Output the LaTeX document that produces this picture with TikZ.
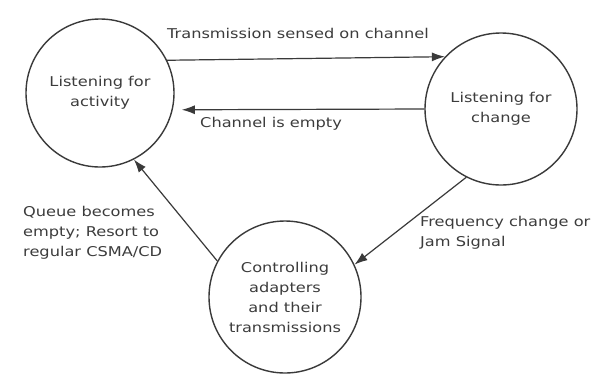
\documentclass[tikz,border=0pt]{standalone}
\usepackage{fontspec}
\setmainfont{DejaVu Sans}[FakeStretch=1.2]
\usetikzlibrary{arrows.meta}
\definecolor{txt}{HTML}{3C3C3C}
\definecolor{ln}{HTML}{3A3A3A}
\begin{document}
\begin{tikzpicture}[x=1pt,y=-1pt,
  state/.style={circle,draw=ln,line width=1.4pt,align=center,text=txt,
     font=\fontsize{13.5}{20}\selectfont,inner sep=0pt},
  lab/.style={text=txt,font=\fontsize{13.5}{20}\selectfont,inner sep=0pt},
  arr/.style={draw=ln,line width=1.2pt,-{Latex[length=13pt,width=9pt]}}]
\useasboundingbox[fill=white] (0,0) rectangle (601,373);
\node[state,minimum size=148pt] (A) at (100,93) {Listening for\\activity};
\node[state,minimum size=152pt] (B) at (501,109) {Listening for\\change};
\node[state,minimum size=152pt] (C) at (285,297) {Controlling\\adapters\\and their\\transmissions};
\draw[arr] (A.26.6) -- (B.137.8);
\draw[arr,shorten >=9pt] (B.180) -- (A.-13);
\draw[arr] (B.-117.9) -- (C.25.5);
\draw[arr] (C.152.8) -- (A.-63);
\node[lab] (t1) at (298,33) {Transmission sensed on channel};
\node[lab,anchor=west] (t2) at (200,124) {Channel is empty};
\node[lab,anchor=north west,align=left] (t3) at (420,216) {Frequency change or\\Jam Signal};
\node[lab,anchor=north west,align=left] (t4) at (23,206) {Queue becomes\\empty; Resort to\\regular CSMA/CD};
\end{tikzpicture}
\end{document}
